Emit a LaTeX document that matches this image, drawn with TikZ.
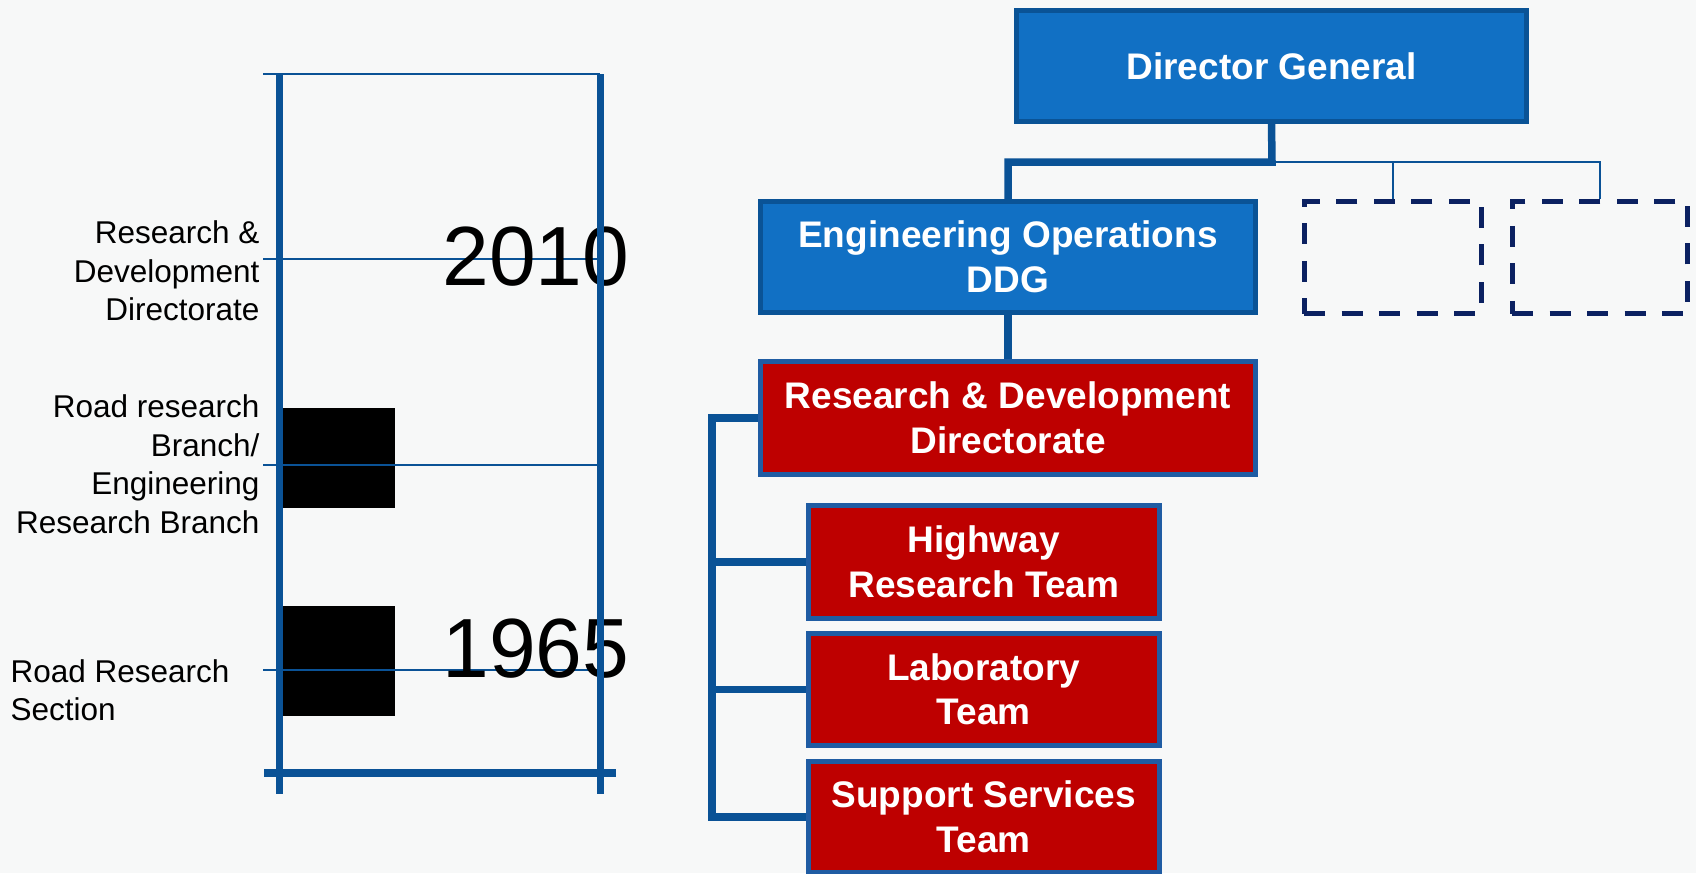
\documentclass[tikz,border=0pt]{standalone}
\usepackage{fontspec}
\setmainfont{Liberation Sans}
\definecolor{bgc}{HTML}{F7F8F8}
\definecolor{bluefill}{HTML}{1170C4}
\definecolor{bluebord}{HTML}{0A5396}
\definecolor{redfill}{HTML}{BE0000}
\definecolor{redbord}{HTML}{1F5CA3}
\definecolor{connblue}{HTML}{0A5296}
\definecolor{navy}{HTML}{0B2161}
\begin{document}
\begin{tikzpicture}[x=1pt,y=-1pt,
  bluebox/.style={draw=bluebord, fill=bluefill, line width=5pt, text=white,
    font=\bfseries\fontsize{37}{44.5}\selectfont, align=center, inner sep=0pt},
  redbox/.style={draw=redbord, fill=redfill, line width=5pt, text=white,
    font=\bfseries\fontsize{37}{44.5}\selectfont, align=center, inner sep=0pt},
  dashbox/.style={draw=navy, line width=5pt, dash pattern=on 21pt off 16.5pt, inner sep=0pt},
  conn/.style={draw=connblue, line width=7.5pt},
  thinconn/.style={draw=connblue, line width=2pt},
  axisline/.style={draw=connblue, line width=7.5pt},
  tickline/.style={draw=connblue, line width=2pt},
  lbl/.style={font=\fontsize{31.5}{38.4}\selectfont, inner sep=0pt},
  yearlbl/.style={font=\fontsize{84}{84}\selectfont, inner sep=0pt}]
\useasboundingbox (0,0) rectangle (1696,873);
\fill[bgc] (0,0) rectangle (1696,873);

% ---- timeline ----
\fill[black] (283.3,407.5) rectangle (395,508.3);
\fill[black] (283.3,606) rectangle (395,716.3);
\draw[tickline] (263,74) -- (600,74);
\draw[tickline] (263,258.5) -- (598,258.5);
\draw[tickline] (263,464.7) -- (598,464.7);
\draw[tickline] (263,670) -- (598,670);
\node[yearlbl] (y2010) at (536,257) {2010};
\node[yearlbl] (y1965) at (536,648.5) {1965};
\draw[axisline] (279.5,74) -- (279.5,794.3);
\draw[axisline] (600.3,74) -- (600.3,794.3);
\draw[axisline, line width=8pt] (264,773.3) -- (616,773.3);

\node[lbl, anchor=east, align=right] (l1) at (259.6,271) {Research \&\\Development\\Directorate};
\node[lbl, anchor=east, align=right] (l2) at (259.6,464.3) {Road research\\Branch/\\Engineering\\Research Branch};
\node[lbl, anchor=west, align=left] (l3) at (10.5,690) {Road Research\\Section};

% ---- org chart ----
\coordinate (j) at (1272,162);
\coordinate (sp) at (712,417.5);

\node[bluebox, minimum width=510pt, minimum height=110.2pt] (dg) at (1271.5,66) {Director General};
\node[bluebox, minimum width=495pt, minimum height=111pt] (eo) at (1008,257) {Engineering Operations\\DDG};
\node[dashbox, minimum width=176.8pt, minimum height=112.1pt] (d1) at (1392.6,257.6) {};
\node[dashbox, minimum width=175.7pt, minimum height=112pt] (d2) at (1599.9,257.7) {};
\node[redbox, minimum width=495pt, minimum height=112.4pt] (rd) at (1008,418) {Research \& Development\\Directorate};
\node[redbox, minimum width=351pt, minimum height=112.4pt] (t1) at (983.8,562) {Highway\\Research Team};
\node[redbox, minimum width=351pt, minimum height=112.6pt] (t2) at (983.8,689.5) {Laboratory\\Team};
\node[redbox, minimum width=351pt, minimum height=110.4pt] (t3) at (983.8,817) {Support Services\\Team};

% connectors
\draw[conn] (dg.south) -- (j) -| (eo.north);
\draw[thinconn] (j) -| (d2.north);
\draw[thinconn] (d1.north |- j) -- (d1.north);
\draw[conn] (eo.south) -- (rd.north);
\draw[conn] (rd.west) -| (sp |- t3.west) -- (t3.west);
\draw[conn] (sp |- t1.west) -- (t1.west);
\draw[conn] (sp |- t2.west) -- (t2.west);
\end{tikzpicture}
\end{document}
